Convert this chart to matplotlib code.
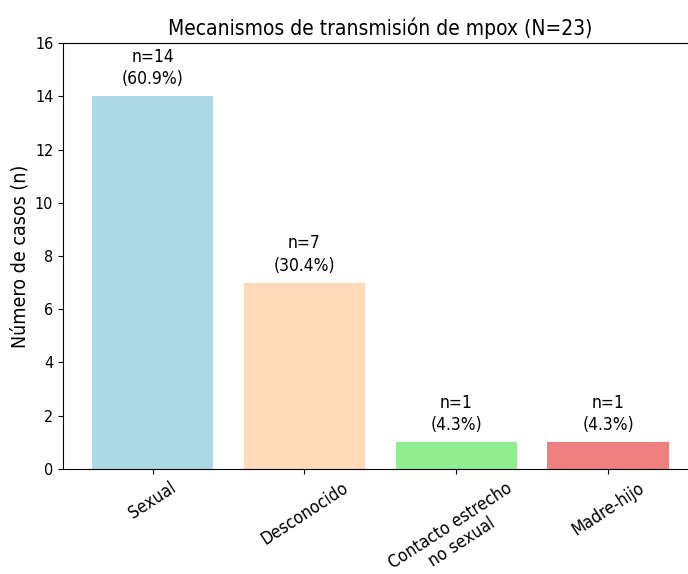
import matplotlib
matplotlib.use("Agg")
import matplotlib.pyplot as plt

plt.rcParams["font.stretch"] = "condensed"

categories = ["Sexual", "Desconocido", "Contacto estrecho\nno sexual", "Madre-hijo"]
counts = [14, 7, 1, 1]
total = 23
colors = ["lightblue", "peachpuff", "lightgreen", "lightcoral"]

fig = plt.figure(figsize=(6.88, 5.74), dpi=100)
ax = fig.add_axes([0.0916, 0.183, 0.9225, 0.742])

bars = ax.bar(range(len(categories)), counts, color=colors, width=0.8)
for b, c in zip(bars, counts):
    ax.text(b.get_x() + b.get_width() / 2, b.get_height() + 0.3,
            f"n={c}\n({c / total * 100:.1f}%)", ha="center", va="bottom",
            fontsize=12.5, linespacing=1.3)

ax.set_xticks(range(len(categories)))
ax.set_xticklabels(categories, rotation=33, fontsize=12.5)
ax.tick_params(axis="y", labelsize=11.5)
ax.set_ylim(0, 16)
ax.set_ylabel("Número de casos (n)", fontsize=14)
ax.set_title("Mecanismos de transmisión de mpox (N=23)", fontsize=15)
ax.spines["right"].set_visible(False)

fig.savefig("out.png", dpi=100)
